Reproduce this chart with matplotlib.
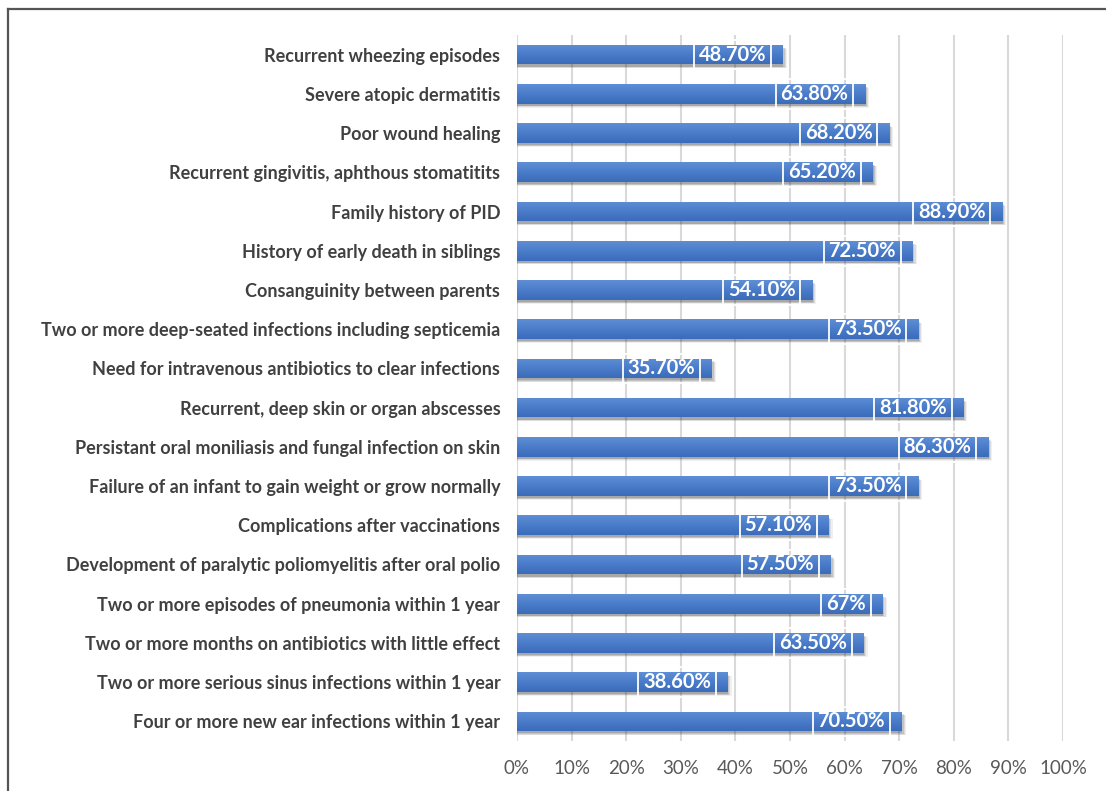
import numpy as np
import matplotlib.pyplot as plt
from matplotlib.colors import LinearSegmentedColormap
from matplotlib.lines import Line2D

plt.rcParams['font.family'] = ['Lato', 'DejaVu Sans']

# warning signs, listed top to bottom
signs = [
    "Recurrent wheezing episodes",
    "Severe atopic dermatitis",
    "Poor wound healing",
    "Recurrent gingivitis, aphthous stomatitits",
    "Family history of PID",
    "History of early death in siblings",
    "Consanguinity between parents",
    "Two or more deep-seated infections including septicemia",
    "Need for intravenous antibiotics to clear infections",
    "Recurrent, deep skin or organ abscesses",
    "Persistant oral moniliasis and fungal infection on skin",
    "Failure of an infant to gain weight or grow normally",
    "Complications after vaccinations",
    "Development of paralytic poliomyelitis after oral polio",
    "Two or more episodes of pneumonia within 1 year",
    "Two or more months on antibiotics with little effect",
    "Two or more serious sinus infections within 1 year",
    "Four or more new ear infections within 1 year",
]
pct = [48.7, 63.8, 68.2, 65.2, 88.9, 72.5, 54.1, 73.5, 35.7, 81.8,
       86.3, 73.5, 57.1, 57.5, 67.0, 63.5, 38.6, 70.5]
pct_labels = ["48.70%", "63.80%", "68.20%", "65.20%", "88.90%", "72.50%",
              "54.10%", "73.50%", "35.70%", "81.80%", "86.30%", "73.50%",
              "57.10%", "57.50%", "67%", "63.50%", "38.60%", "70.50%"]
xticks = [0, 10, 20, 30, 40, 50, 60, 70, 80, 90, 100]

vals = np.array(pct) / 100
y = np.arange(len(signs))

fig = plt.figure(figsize=(11.06, 7.91), dpi=100)
ax = fig.add_axes([517 / 1106, 1 - 741 / 791, 546 / 1106, 706 / 791])

# soft drop shadow under each bar
for off, a in [(0.007, 0.07), (0.005, 0.1), (0.003, 0.14), (0.001, 0.18)]:
    ax.barh(y + 0.05 + off * 7, vals + off, height=0.5, color='#303030',
            alpha=a, zorder=2, linewidth=0)

bars = ax.barh(y, vals, height=0.5, color='#4472c4', zorder=3, linewidth=0)

# vertical gradient inside each bar
grad = np.linspace(0, 1, 64).reshape(-1, 1)
cmap = LinearSegmentedColormap.from_list('bar', ['#5f8ed6', '#4a7cc9', '#3b6cbb'])
for b in bars:
    x0, y0 = b.get_x(), b.get_y()
    w, h = b.get_width(), b.get_height()
    im = ax.imshow(grad, cmap=cmap, aspect='auto', zorder=3.5,
                   extent=(x0, x0 + w, y0 + h, y0), interpolation='bicubic')
    im.set_clip_path(b)

for yi, v, lab in zip(y, vals, pct_labels):
    ax.text(v - 0.031, yi, lab, ha='right', va='center', color='white',
            fontsize=14.5, fontweight='bold', zorder=5,
            bbox=dict(boxstyle='square,pad=0.24', fc='none', ec='white', lw=1.3))

ax.set_xlim(0, 1)
ax.set_ylim(len(signs) - 0.5, -0.5)
ax.set_xticks(np.array(xticks) / 100)
ax.set_xticklabels([f"{t}%" for t in xticks])
ax.set_yticks(y)
ax.set_yticklabels(signs)
ax.tick_params(axis='x', length=0, pad=14, labelsize=13.5, labelcolor='#595959')
ax.tick_params(axis='y', length=0, pad=12, labelsize=13, labelcolor='#404040')
for t in ax.get_yticklabels():
    t.set_fontweight('bold')
ax.grid(axis='x', color='#d9d9d9', lw=1.5, zorder=0)
ax.set_axisbelow(True)
for s in ax.spines.values():
    s.set_visible(False)
ax.axvline(0, color='#d9d9d9', lw=1.5, zorder=1)

# outer frame: top and left edges only
fig.add_artist(Line2D([8 / 1106, 8 / 1106], [0, 1 - 9 / 791], color='#555555', lw=1.6))
fig.add_artist(Line2D([8 / 1106, 1], [1 - 9 / 791, 1 - 9 / 791], color='#555555', lw=1.6))

fig.savefig('out.png', dpi=100)
